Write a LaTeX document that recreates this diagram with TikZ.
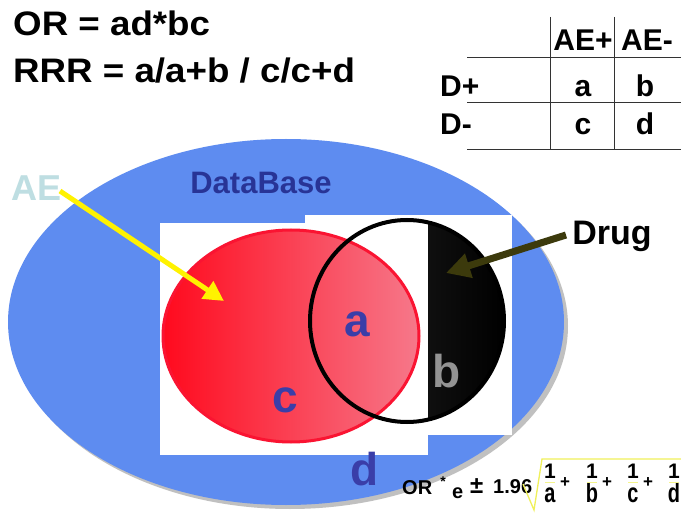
\documentclass[tikz,border=0pt]{standalone}
\usepackage{fontspec}
\setmainfont{Liberation Sans}
\newfontfamily\widefont[FakeStretch=1.08]{Liberation Sans}
\usetikzlibrary{arrows.meta,shadows}
\definecolor{dbblue}{RGB}{94,140,240}
\definecolor{lettblue}{RGB}{58,62,168}
\definecolor{dbtext}{RGB}{40,52,150}
\definecolor{aepale}{RGB}{190,222,226}
\definecolor{redL}{RGB}{255,10,30}
\definecolor{redR}{RGB}{246,120,138}
\definecolor{redB}{RGB}{250,20,50}
\definecolor{olive}{RGB}{60,58,12}
\definecolor{radyel}{RGB}{240,240,90}
\newcommand\fsz[1]{\fontsize{#1}{#1}\selectfont\bfseries}
\tikzset{
  txt/.style={inner sep=0pt, anchor=base},
  txtw/.style={inner sep=0pt, anchor=base west},
  vlet/.style={txt, font=\fsz{46}, text=lettblue},
  tab/.style={txt, font=\fsz{30}},
  tabw/.style={txtw, font=\fsz{30}},
  tline/.style={line width=0.9pt, black!80},
  frm/.style={txt, font=\fsz{21}},
  frmw/.style={txtw, font=\fsz{20}},
}
\begin{document}
\begin{tikzpicture}[x=1pt,y=-1pt]
\fill[white] (0,0) rectangle (681,516);
\useasboundingbox (0,0) rectangle (681,516);
% database ellipse
\fill[dbblue, drop shadow={shadow xshift=4pt, shadow yshift=-4pt, fill=gray!70, opacity=0.7}]
  (286,322) ellipse [x radius=278, y radius=183];
% white panels
\fill[white] (160,223) rectangle (428,455);
\fill[white] (305,215) rectangle (512,435);
% AE ellipse
\shade[left color=redL, right color=redR] (291,336) ellipse [x radius=128, y radius=106];
\draw[redB, line width=3pt] (291,336) ellipse [x radius=128, y radius=106];
% drug circle
\begin{scope}
  \clip (428,200) rectangle (520,440);
  \shade[left color=black!85, right color=black] (407,321) ellipse [x radius=97, y radius=101];
\end{scope}
\draw[black, line width=4pt] (407,321) ellipse [x radius=97, y radius=101];
% labels
\node[txt, font=\fsz{31}, text=dbtext] (db) at (261,194) {DataBase};
\node[txt, font=\fsz{36}, text=aepale] (AE) at (37,201) {AE};
\node[txt, font=\fsz{34}, text=black] (Drug) at (612,244) {Drug};
\node[vlet] (la) at (357,337) {a};
\node[vlet, text=gray!85] (lb) at (447,387) {b};
\node[vlet] (lc) at (285,412) {c};
\node[vlet] (ld) at (365,485) {d};
% arrows
\coordinate (ystart) at (60,191);
\coordinate (ytip) at (224,301);
\draw[yellow, line width=5pt, -{Triangle[length=20pt,width=20pt]}] (ystart) -- (ytip);
\coordinate (ostart) at (566,235);
\coordinate (otip) at (446,273);
\draw[olive, line width=7pt, -{Triangle[length=24pt,width=24pt]}] (ostart) -- (otip);
% top formulas
\node[txtw, font={\widefont\fontsize{34}{34}\selectfont\bfseries}] (or) at (13,36) {OR = ad*bc};
\node[txtw, font={\widefont\fontsize{34}{34}\selectfont\bfseries}] (rrr) at (13,83) {RRR = a/a+b / c/c+d};
% table
\node[tab] (h1) at (583,51) {AE+};
\node[tab] (h2) at (647,51) {AE-};
\node[tabw] (r1) at (440,97) {D+};
\node[tabw] (r2) at (440,135) {D-};
\node[tab] (ca) at (583,97) {a};
\node[tab] (cb) at (645,97) {b};
\node[tab] (cc) at (583,135) {c};
\node[tab] (cd) at (645,135) {d};
\draw[tline] (467,57) -- (681,57);
\draw[tline] (467,102) -- (681,102);
\draw[tline] (467,149) -- (681,149);
\draw[tline] (550,17) -- (550,150);
\draw[tline] (614,17) -- (614,150);
% bottom formula
\node[frmw] (f1) at (402,494) {OR};
\node[txt, font=\fsz{14}] (f2) at (443,486) {*};
\node[frmw] (f3) at (452,498) {e};
\node[txtw, font=\fsz{24}] (f4) at (470,493) {±};
\node[frmw] (f5) at (493,493) {1.96};
\draw[radyel, line width=1.3pt] (523,484) -- (534,510) -- (542,459) -- (681,459);
\foreach \x/\l [count=\i] in {550/a,592/b,633/c,674/d}{
  \node[frm] (n\i) at (\x,478) {1};
  \node[frm] (d\i) at (\x,502) {\scalebox{0.95}[1.3]{\l}};
  \draw[radyel!70, line width=0.8pt] (\x-5,482) -- (\x+5,482);
}
\foreach \x [count=\i] in {565,607,648}{
  \node[txt, font=\fsz{17}] (p\i) at (\x,487) {+};
}
\end{tikzpicture}
\end{document}
